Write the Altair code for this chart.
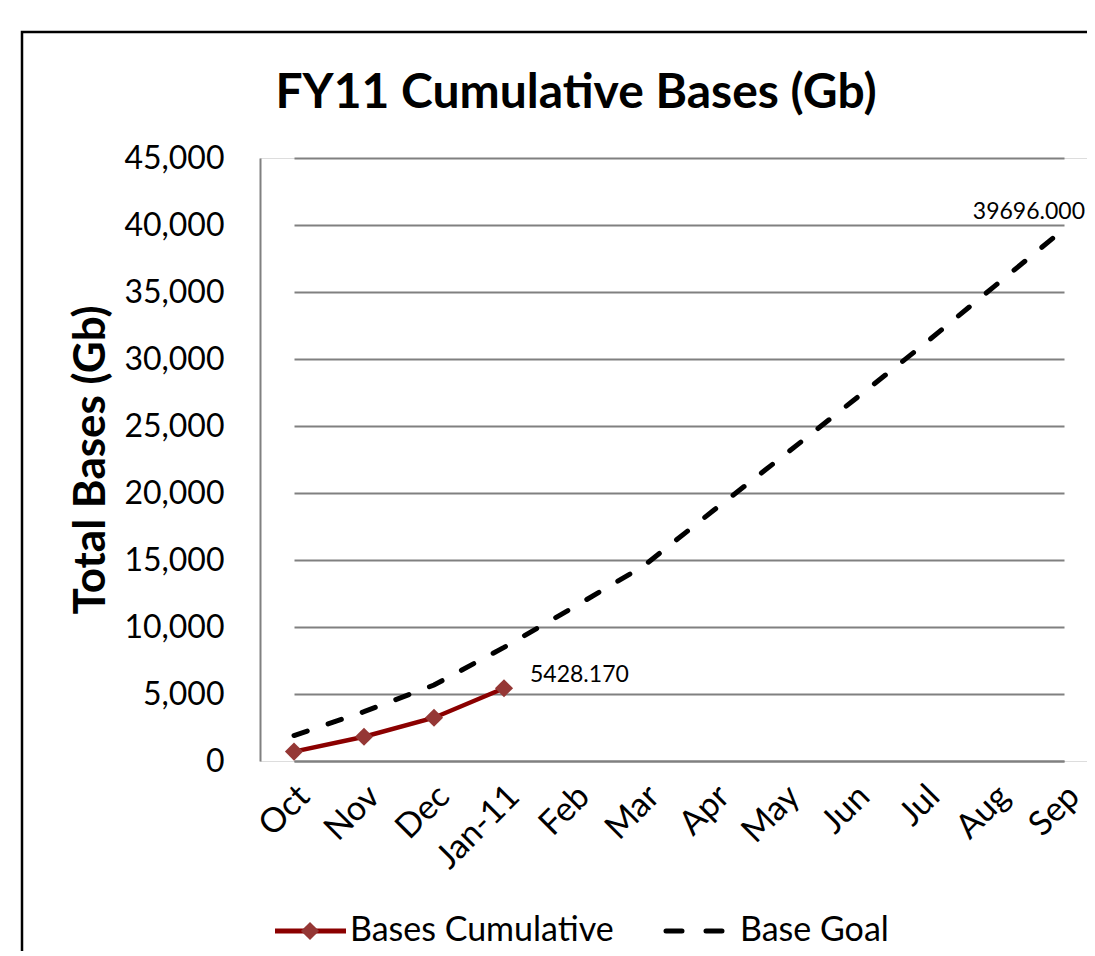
import altair as alt
import pandas as pd

months = ["Oct", "Nov", "Dec", "Jan-11", "Feb", "Mar", "Apr", "May", "Jun", "Jul", "Aug", "Sep"]
bases_values = [700, 1810, 3230, 5428.17]
goal_values = [1900, 3680, 5670, 8480, 11490, 14575, 18730, 22810, 26940, 31100, 35400, 39696]
series_names = ["Bases Cumulative", "Base Goal"]
bases_label = "5428.170"
goal_label = "39696.000"
y_ticks = [0, 5000, 10000, 15000, 20000, 25000, 30000, 35000, 40000, 45000]
title_text = "FY11 Cumulative Bases (Gb)"
y_title = "Total Bases (Gb)"

W, H = 827, 603
FONT = "Lato"
RED_LINE = "#8b0000"
RED_MARK = "#953735"
GRAY = "#808080"

bases_df = pd.DataFrame({"month": months[:len(bases_values)], "value": bases_values})
goal_df = pd.DataFrame({"month": months, "value": goal_values})
bases_lab_df = pd.DataFrame({"month": [months[len(bases_values) - 1]], "value": [bases_values[-1]], "label": [bases_label]})
goal_lab_df = pd.DataFrame({"month": [months[-1]], "value": [goal_values[-1]], "label": [goal_label]})

x_enc = alt.X(
    "month:O",
    sort=months,
    scale=alt.Scale(type="point", domain=months, range=[34, 804], padding=0),
    axis=alt.Axis(
        title=None, labelAngle=-45, labelAlign="right", labelBaseline="middle",
        labelPadding=30, labelOffset=10, ticks=False, grid=False,
        domainColor=GRAY, domainWidth=2, labelFontSize=34, labelFont=FONT,
        labelColor="black",
    ),
)
y_enc = alt.Y(
    "value:Q",
    scale=alt.Scale(domain=[0, 45000], nice=False),
    axis=alt.Axis(
        title=y_title, values=y_ticks, format=",.0f", ticks=False,
        grid=True, gridColor=GRAY, gridWidth=2,
        domainColor=GRAY, domainWidth=2,
        labelFontSize=32, labelFont=FONT, labelColor="black", labelPadding=36,
        titleFont=FONT, titleFontSize=44, titleFontWeight="bold", titleColor="black",
        titlePadding=10,
    ),
)

goal_line = alt.Chart(goal_df).mark_line(
    color="black", strokeWidth=5, strokeDash=[14, 22], strokeCap="round"
).encode(x=x_enc, y=y_enc)

bases_line = alt.Chart(bases_df).mark_line(color=RED_LINE, strokeWidth=4.5).encode(x=x_enc, y=y_enc)
bases_pts = alt.Chart(bases_df).mark_point(
    shape="diamond", filled=True, size=330, color=RED_MARK, opacity=1
).encode(x=x_enc, y=y_enc)

bases_text = alt.Chart(bases_lab_df).mark_text(
    align="left", baseline="middle", dx=26, dy=-13, fontSize=23, font=FONT, color="black"
).encode(x=x_enc, y=y_enc, text="label:N")
goal_text = alt.Chart(goal_lab_df).mark_text(
    align="right", baseline="middle", dx=21, dy=-17, fontSize=23, font=FONT, color="black"
).encode(x=x_enc, y=y_enc, text="label:N")

one = alt.Data(values=[{"a": 0}])

frame = alt.Chart(one).mark_rect(fill="transparent", stroke="black", strokeWidth=2.5).encode(
    x=alt.value(-238), x2=alt.value(W + 60), y=alt.value(-126), y2=alt.value(H + 400)
)

title_mark = alt.Chart(alt.Data(values=[{"label": title_text}])).mark_text(
    align="center", baseline="alphabetic", fontSize=48, font=FONT, fontWeight="bold", color="black"
).encode(x=alt.value(316), y=alt.value(-50), text="label:N")

LY = 773
leg1_line = alt.Chart(one).mark_rule(color=RED_LINE, strokeWidth=5).encode(
    x=alt.value(15), x2=alt.value(86), y=alt.value(LY)
)
leg1_pt = alt.Chart(one).mark_point(shape="diamond", filled=True, size=330, color=RED_MARK, opacity=1).encode(
    x=alt.value(50), y=alt.value(LY)
)
leg1_txt = alt.Chart(alt.Data(values=[{"label": series_names[0]}])).mark_text(
    align="left", baseline="middle", fontSize=34, font=FONT, color="black"
).encode(x=alt.value(90), y=alt.value(LY), text="label:N")
leg2_line = alt.Chart(one).mark_rule(color="black", strokeWidth=5, strokeDash=[16, 24], strokeCap="round").encode(
    x=alt.value(406), x2=alt.value(464), y=alt.value(LY)
)
leg2_txt = alt.Chart(alt.Data(values=[{"label": series_names[1]}])).mark_text(
    align="left", baseline="middle", fontSize=34, font=FONT, color="black"
).encode(x=alt.value(480), y=alt.value(LY), text="label:N")

chart = alt.layer(
    goal_line, bases_line, bases_pts, bases_text, goal_text, title_mark,
    leg1_line, leg1_pt, leg1_txt, leg2_line, leg2_txt, frame,
).properties(
    width=W, height=H,
    autosize=alt.AutoSizeParams(type="none"),
    padding={"left": 252, "top": 150, "right": 0, "bottom": 190},
).configure_view(
    fill="#d9d9d9", stroke=GRAY, strokeWidth=2
).configure(background="white")

chart.save("out.html", embed_options={"renderer": "svg", "actions": False})
